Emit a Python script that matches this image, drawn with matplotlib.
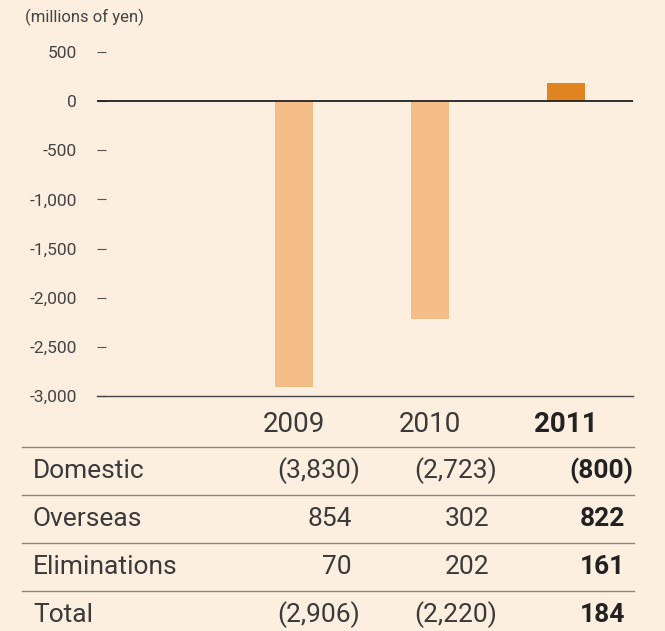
import matplotlib
matplotlib.use("Agg")
import matplotlib.pyplot as plt
from matplotlib.lines import Line2D

plt.rcParams['font.family'] = ['Roboto', 'DejaVu Sans']

years = ["2009", "2010", "2011"]
totals = [-2906, -2220, 184]
row_labels = ["Domestic", "Overseas", "Eliminations", "Total"]
table_values = [
    ["(3,830)", "(2,723)", "(800)"],
    ["854", "302", "822"],
    ["70", "202", "161"],
    ["(2,906)", "(2,220)", "184"],
]
yticks = [500, 0, -500, -1000, -1500, -2000, -2500, -3000]
ytick_labels = ["500", "0", "-500", "-1,000", "-1,500", "-2,000", "-2,500", "-3,000"]
unit_label = "(millions of yen)"

BG = "#fcefdf"
LIGHT = "#f2bd86"
DARK = "#e08421"
TXT = "#3a3a3a"

W, H = 665, 631
fig = plt.figure(figsize=(W / 100, H / 100), dpi=100, facecolor=BG)

def fx(x):
    return x / W

def fy(y):
    return 1 - y / H

# axes: x from 97 to 633, y from 52 (500) to 396 (-3000)
ax = fig.add_axes([fx(97), fy(396), fx(633) - fx(97), fy(52) - fy(396)])
ax.set_facecolor(BG)
ax.set_ylim(-3000, 500)
ax.set_xlim(-1.449, 2.493)

xs = list(range(len(years)))
colors = [LIGHT, LIGHT, DARK]
ax.bar(xs, totals, width=0.28, color=colors, zorder=2, clip_on=False)

for s in ax.spines.values():
    s.set_visible(False)
ax.axhline(0, color="#222222", lw=1.3, zorder=3)
ax.axhline(-3000, color="#444444", lw=1.0, zorder=3, clip_on=False)

ax.set_xticks([])
ax.set_yticks(yticks)
ax.set_yticklabels(ytick_labels)
ax.tick_params(axis="y", direction="in", length=6.5, width=0.8, color="#555555",
               labelsize=12.5, labelcolor="#444444", pad=14.4)

fig.text(fx(25), fy(17), unit_label, ha="left", va="center",
         fontsize=12, color="#444444")

# Year headers
col_centers = [294, 430, 566]
for i, yr in enumerate(years):
    fig.text(fx(col_centers[i]), fy(425), yr, ha="center", va="center",
             fontsize=20, color=TXT if i < 2 else "#222222",
             fontweight="normal" if i < 2 else "bold")

# table lines
for ly in [447, 495, 543, 591]:
    fig.add_artist(Line2D([fx(22), fx(634)], [fy(ly), fy(ly)],
                          color="#8a8580", lw=1.0))

row_centers = [471, 519, 567, 615]
col_right = [352, 489, 625]
for r, lab in enumerate(row_labels):
    fig.text(fx(33), fy(row_centers[r]), lab, ha="left", va="center",
             fontsize=19, color=TXT)
    for c in range(3):
        v = table_values[r][c]
        xr = col_right[c] + (8 if v.startswith("(") else 0)
        fig.text(fx(xr), fy(row_centers[r]), v, ha="right", va="center",
                 fontsize=19, color=TXT if c < 2 else "#222222",
                 fontweight="normal" if c < 2 else "bold")

fig.savefig("out.png", dpi=100, facecolor=BG)
